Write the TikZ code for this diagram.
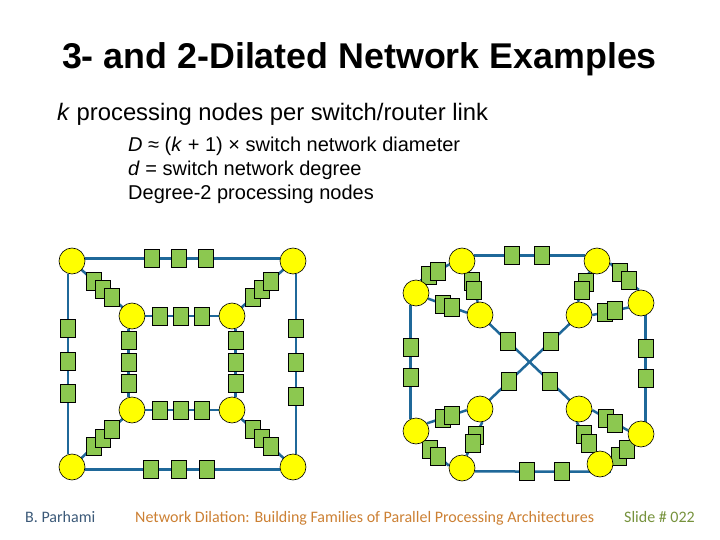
\documentclass[tikz,border=0pt]{standalone}
\usepackage{fontspec}
\setmainfont{Liberation Sans}
\newfontfamily\footfont{Carlito}
\usetikzlibrary{calc,backgrounds}
\definecolor{swyellow}{RGB}{255,255,0}
\definecolor{pngreen}{RGB}{140,200,80}
\definecolor{linkblue}{RGB}{31,104,153}
\definecolor{footblue}{RGB}{59,89,120}
\definecolor{footorange}{RGB}{204,128,51}
\definecolor{footgreen}{RGB}{118,146,60}
\pgfdeclarelayer{pnlayer}
\pgfsetlayers{background,pnlayer,main}
\begin{document}
\begin{tikzpicture}[x=1pt,y=-1pt,
    sw/.style={circle,draw=black,line width=0.6pt,fill=swyellow,inner sep=0pt,minimum size=26pt},
    pn/.style={rectangle,draw=black,line width=0.6pt,fill=pngreen,inner sep=0pt,minimum width=15pt,minimum height=18pt},
    link/.style={linkblue,line width=2.5pt},
    txt/.style={anchor=base west,inner sep=0pt}]
    \useasboundingbox (0,0) rectangle (720,540);
    % heading and text lines
    \node[anchor=base,inner sep=0pt] (title) at (359.5,69) {\fontsize{35.8}{40}\selectfont\bfseries 3- and 2-Dilated Network Examples};
    \node[txt] (sub) at (57,121) {\fontsize{23.8}{28}\selectfont\textit{k} processing nodes per switch/router link};
    \node[txt] (line1) at (128,152) {\fontsize{20}{24}\selectfont\textit{D} ≈ (\textit{k} + 1) × switch network diameter};
    \node[txt] (line2) at (128,176) {\fontsize{20}{24}\selectfont\textit{d} = switch network degree};
    \node[txt] (line3) at (128,200) {\fontsize{20}{24}\selectfont Degree-2 processing nodes};
    % left network: 3 processing nodes per link
    \node[sw] (o1) at (72,261) {};
    \node[sw] (o2) at (293,261) {};
    \node[sw] (o3) at (72,467) {};
    \node[sw] (o4) at (293,467) {};
    \node[sw] (i1) at (132,316) {};
    \node[sw] (i2) at (232,316) {};
    \node[sw] (i3) at (132,410) {};
    \node[sw] (i4) at (232,410) {};
    \foreach \a/\u/\b/\v/\f in {o1/10/o2/170/{.34,.48,.62}, o3/-10/o4/190/{.337,.483,.626},
        o1/-108/o3/108/{.3,.485,.66}, o2/-78/o4/78/{.3,.49,.68},
        i1/center/i2/center/{.28,.49,.70}, i3/center/i4/center/{.28,.49,.70},
        i1/-105/i3/105/{.17,.495,.79}, i2/-75/i4/75/{.17,.495,.79},
        o1/center/i1/center/{.36,.51,.655}, o2/center/i2/center/{.655,.51,.36},
        o3/center/i3/center/{.36,.51,.655}, o4/center/i4/center/{.655,.51,.36}} {
      \begin{pgfonlayer}{background}
        \draw[link] (\a.\u) -- (\b.\v);
      \end{pgfonlayer}
      \begin{pgfonlayer}{pnlayer}
        \foreach \t [count=\n] in \f
          \node[pn] (\a\b-\n) at ($(\a.\u)!\t!(\b.\v)$) {};
      \end{pgfonlayer}
    }
    % right network: 2 processing nodes per link
    \node[sw] (a) at (462,261) {};
    \node[sw] (b) at (416,293) {};
    \node[sw] (c) at (480,315) {};
    \node[sw] (d) at (597,261) {};
    \node[sw] (e) at (641,303) {};
    \node[sw] (f) at (579,315) {};
    \node[sw] (g) at (480,409) {};
    \node[sw] (h) at (416,431) {};
    \node[sw] (i) at (462,468) {};
    \node[sw] (j) at (579,409) {};
    \node[sw] (k) at (641,434) {};
    \node[sw] (l) at (600,464) {};
    \foreach \a/\u/\b/\v/\f in {a/25/d/155/{.34,.61}, i/-15/l/-35/{.38,.64},
        b/245/h/115/{.37,.63}, e/-70/k/70/{.31,.59},
        c/center/j/center/{.28,.71}, f/center/g/center/{.28,.71},
        b/70/a/195/{.3,.6}, a/-60/c/100/{.31,.62}, b/-25/c/170/{.39,.62},
        d/235/f/95/{.35,.62}, d/-10/e/100/{.35,.64}, e/200/f/0/{.65,.375},
        h/35/g/185/{.39,.62}, g/-80/i/70/{.4,.63}, h/-60/i/170/{.28,.59},
        j/-5/k/165/{.38,.62}, j/-100/l/120/{.4,.7}, k/-130/l/10/{.69,.3}} {
      \begin{pgfonlayer}{background}
        \draw[link] (\a.\u) -- (\b.\v);
      \end{pgfonlayer}
      \begin{pgfonlayer}{pnlayer}
        \foreach \t [count=\n] in \f
          \node[pn] (\a\b-\n) at ($(\a.\u)!\t!(\b.\v)$) {};
      \end{pgfonlayer}
    }
    % footer
    \node[txt] (author) at (25,522) {\footfont\fontsize{16}{18}\selectfont\color{footblue}B. Parhami};
    \node[txt] (talk) at (135,522) {\footfont\fontsize{16}{18}\selectfont\color{footorange}Network Dilation: Building Families of Parallel Processing Architectures};
    \node[txt] (slide) at (624,522) {\footfont\fontsize{16}{18}\selectfont\color{footgreen}Slide \# 022};
\end{tikzpicture}
\end{document}
